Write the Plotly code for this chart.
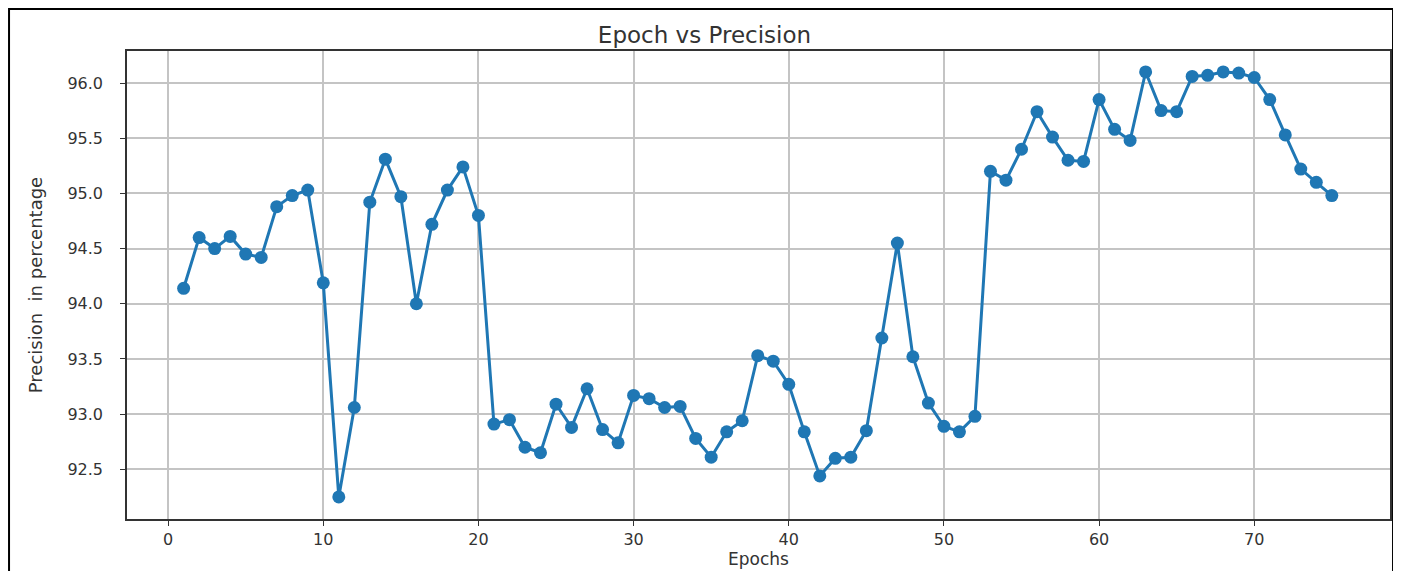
import plotly.graph_objects as go

epochs = list(range(1, 76))
precision = [
    94.14, 94.60, 94.50, 94.61, 94.45, 94.42, 94.88, 94.98, 95.03, 94.19,
    92.25, 93.06, 94.92, 95.31, 94.97, 94.00, 94.72, 95.03, 95.24, 94.80,
    92.91, 92.95, 92.70, 92.65, 93.09, 92.88, 93.23, 92.86, 92.74, 93.17,
    93.14, 93.06, 93.07, 92.78, 92.61, 92.84, 92.94, 93.53, 93.48, 93.27,
    92.84, 92.44, 92.60, 92.61, 92.85, 93.69, 94.55, 93.52, 93.10, 92.89,
    92.84, 92.98, 95.20, 95.12, 95.40, 95.74, 95.51, 95.30, 95.29, 95.85,
    95.58, 95.48, 96.10, 95.75, 95.74, 96.06, 96.07, 96.10, 96.09, 96.05,
    95.85, 95.53, 95.22, 95.10, 94.98,
]
x_ticks = [0, 10, 20, 30, 40, 50, 60, 70]
y_ticks = [92.5, 93.0, 93.5, 94.0, 94.5, 95.0, 95.5, 96.0]

fig = go.Figure()
fig.add_trace(go.Scatter(
    x=epochs, y=precision, mode="lines+markers",
    line=dict(color="#1f77b4", width=3),
    marker=dict(color="#1f77b4", size=13),
    showlegend=False,
))

font = "DejaVu Sans"
axis_common = dict(
    showline=True, linecolor="#333333", linewidth=1.5, mirror=True,
    ticks="outside", ticklen=5, tickcolor="#333333", tickwidth=1.2,
    showgrid=True, gridcolor="#c4c4c4", gridwidth=1.5,
    zeroline=False, automargin=False,
    tickfont=dict(family=font, size=16, color="#333333"),
)
fig.update_xaxes(range=[-2.65, 78.75], tickvals=x_ticks,
                 title=dict(text="Epochs", font=dict(family=font, size=17, color="#333333"), standoff=4),
                 **axis_common)
fig.update_yaxes(range=[92.05, 96.29], tickvals=y_ticks, tickformat=".1f",
                 ticklabelstandoff=14,
                 title=dict(text="Precision  in percentage", font=dict(family=font, size=18, color="#333333"), standoff=20),
                 **axis_common)

# outer black frame around the whole picture
fig.add_shape(type="rect", xref="paper", yref="paper",
              x0=-0.0934, x1=1.0024, y0=-0.2, y1=1.0897,
              line=dict(color="black", width=2), fillcolor="rgba(0,0,0,0)")

# page body has an 8px margin, so the figure is drawn 8px smaller
fig.update_layout(
    width=1393, height=563,
    margin=dict(l=119, r=11, t=43, b=52),
    paper_bgcolor="white", plot_bgcolor="white",
    title=dict(text="Epoch vs Precision", x=0.5, xanchor="center", y=0.953, yanchor="middle",
               font=dict(family=font, size=23, color="#333333")),
)
fig.write_html("out.html")
